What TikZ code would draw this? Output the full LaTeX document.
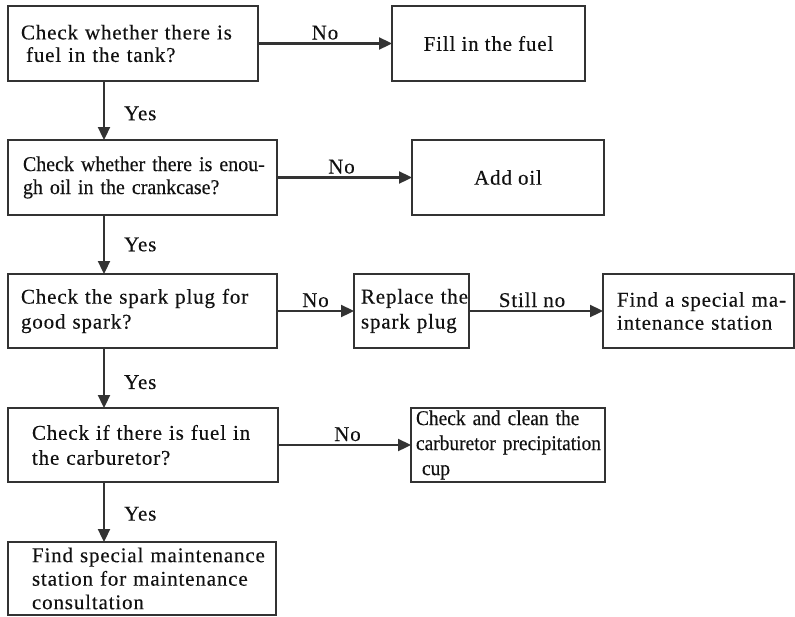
\documentclass[tikz,border=0pt]{standalone}
\usepackage{fontspec}
\setmainfont{Liberation Serif}
\newfontfamily\fa[LetterSpace=4,FakeBold=0.3]{Liberation Serif}
\newfontfamily\fb[FakeStretch=0.95,FakeBold=0.3]{Liberation Serif}
\newfontfamily\fc[FakeStretch=0.925,FakeBold=0.3]{Liberation Serif}
\usetikzlibrary{arrows.meta}
\definecolor{ink}{HTML}{333333}
\definecolor{txt}{HTML}{111111}
\begin{document}
\begin{tikzpicture}[x=1pt,y=-1pt,
  box/.style={draw=ink, line width=2.3pt, rectangle, anchor=north west, outer sep=0pt, inner ysep=0pt, align=left, text=txt},
  arr/.style={draw=ink, line width=2.3pt, -{Triangle[length=13pt,width=12pt]}},
  lbl/.style={inner sep=0pt, text=txt, font=\fa\fontsize{21}{25}\selectfont},
]
\useasboundingbox (0,0) rectangle (795,616);

\node[box, minimum width=250pt, minimum height=75pt, inner xsep=13pt, text width=224pt, font=\fa\fontsize{21}{22.5}\selectfont] (q1) at (8,6)
  {\mbox{Check whether there is}\\\mbox{\hspace*{5pt}fuel in the tank?}};
\node[box, minimum width=193pt, minimum height=75pt, align=center, font=\fa\fontsize{21}{23}\selectfont] (fill) at (392,6) {Fill in the fuel};

\node[box, minimum width=269pt, minimum height=75pt, inner xsep=15pt, text width=239pt, font=\fb\fontsize{21}{23}\selectfont] (q2) at (8,140)
  {\mbox{Check whether there is enou-}\\\mbox{gh oil in the crankcase?}};
\node[box, minimum width=192pt, minimum height=75pt, align=center, font=\fa\fontsize{21}{23}\selectfont] (oil) at (412,140) {Add oil};

\node[box, minimum width=269pt, minimum height=74pt, inner xsep=13pt, text width=243pt, font=\fa\fontsize{21}{25}\selectfont] (q3) at (8,274)
  {\mbox{Check the spark plug for}\\\mbox{good spark?}};
\node[box, minimum width=115pt, minimum height=74pt, inner xsep=7pt, text width=101pt, font=\fa\fontsize{21}{25}\selectfont] (rep) at (354,274)
  {\mbox{Replace the}\\\mbox{spark plug}};
\node[box, minimum width=191pt, minimum height=74pt, inner xsep=14pt, text width=163pt, font=\fa\fontsize{21}{23}\selectfont] (find) at (603,274)
  {\mbox{Find a special ma-}\\\mbox{intenance station}};

\node[box, minimum width=270pt, minimum height=74pt, inner xsep=24pt, text width=222pt, font=\fa\fontsize{21}{25}\selectfont] (q4) at (8,408)
  {\mbox{Check if there is fuel in}\\\mbox{the carburetor?}};
\node[box, minimum width=194pt, minimum height=74pt, inner xsep=5pt, text width=184pt, font=\fc\fontsize{21}{25}\selectfont] (carb) at (411,408)
  {\mbox{Check and clean the}\\\mbox{carburetor precipitation}\\\mbox{\hspace*{6pt}cup}};

\node[box, minimum width=268pt, minimum height=73pt, inner xsep=24pt, text width=220pt, font=\fa\fontsize{21}{23.5}\selectfont] (q5) at (8,542)
  {\mbox{Find special maintenance}\\\mbox{station for maintenance}\\\mbox{consultation}};

\coordinate (vx) at (104,0);

\draw[arr] (q1.south -| vx) -- node[lbl, anchor=west, xshift=19pt, pos=0.55] {Yes} (q2.north -| vx);
\draw[arr] (q2.south -| vx) -- node[lbl, anchor=west, xshift=19pt, pos=0.5] {Yes} (q3.north -| vx);
\draw[arr] (q3.south -| vx) -- node[lbl, anchor=west, xshift=19pt, pos=0.57] {Yes} (q4.north -| vx);
\draw[arr] (q4.south -| vx) -- node[lbl, anchor=west, xshift=19pt, pos=0.53] {Yes} (q5.north -| vx);

\draw[arr] (q1.east) -- node[lbl, anchor=base, yshift=4pt] {No} (fill.west);
\draw[arr] (q2.east) -- node[lbl, anchor=base, yshift=4pt, xshift=-3pt] {No} (oil.west);
\draw[arr] (q3.east) -- node[lbl, anchor=base, yshift=4pt] {No} (rep.west);
\draw[arr] (rep.east) -- node[lbl, anchor=base, yshift=4pt, xshift=-4pt] {Still no} (find.west);
\draw[arr] (q4.east) -- node[lbl, anchor=base, yshift=4pt, xshift=3pt] {No} (carb.west);
\end{tikzpicture}
\end{document}
